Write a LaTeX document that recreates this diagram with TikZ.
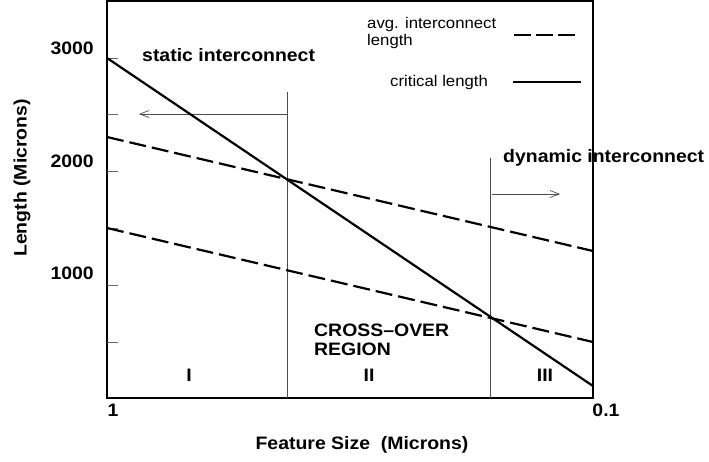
\documentclass[tikz,border=0pt]{standalone}
\usepackage{fontspec}
\setmainfont{Liberation Sans}
\newfontfamily\labfont[FakeStretch=1.08]{Liberation Sans}
\usetikzlibrary{arrows.meta}
\tikzset{
  bold/.style={font=\labfont\fontsize{18}{20}\selectfont\bfseries, inner sep=0pt},
  plain/.style={font=\labfont\fontsize{15.5}{17}\selectfont, inner sep=0pt},
  frame/.style={line width=1.5pt, black},
  crit/.style={line width=2.2pt, black},
  avg/.style={line width=2.2pt, black, dash pattern=on 17pt off 6pt},
  legdash/.style={line width=2.2pt, black, dash pattern=on 17pt off 5pt},
  divider/.style={line width=1pt, black!70},
  tick/.style={line width=1pt, black!60},
  pointer/.style={line width=0.7pt, black!70, -{Straight Barb[length=9pt,width=7pt]}},
}
\begin{document}
\begin{tikzpicture}[x=1pt,y=-1pt]
\useasboundingbox (0,0) rectangle (709,461);
% frame
\coordinate (bl) at (107,398);
\coordinate (tr) at (593,1);
\draw[frame] (bl) rectangle (tr);
% ticks
\foreach \yy/\nm in {58/t3000,114/t2500,171/t2000,228/t1500,285/t1000,342/t500}{
  \coordinate (\nm a) at (107,\yy);
  \coordinate (\nm b) at (118,\yy);
  \draw[tick] (\nm a) -- (\nm b);
}
% divider lines
\coordinate (d1top) at (287,92);
\coordinate (d1bot) at (287,398);
\coordinate (d2top) at (490,158);
\coordinate (d2bot) at (490,398);
\draw[divider] (d1top) -- (d1bot);
\draw[divider] (d2top) -- (d2bot);
% arrows
\coordinate (la0) at (287,114);
\coordinate (la1) at (139,114);
\draw[pointer] (la0) -- (la1);
\coordinate (ra0) at (492,194);
\coordinate (ra1) at (560,194);
\draw[pointer] (ra0) -- (ra1);
% curves
\coordinate (c0) at (107,58);
\coordinate (c1) at (593,386);
\draw[crit] (c0) -- (c1);
\coordinate (u0) at (107,137);
\coordinate (u1) at (593,251);
\draw[avg] (u0) -- (u1);
\coordinate (w0) at (107,228);
\coordinate (w1) at (593,342);
\draw[avg] (w0) -- (w1);
% legend
\node[plain, anchor=west, align=left] (legavg) at (367,33) {avg. interconnect\\length};
\coordinate (ld0) at (514,35);
\coordinate (ld1) at (578,35);
\draw[legdash] (ld0) -- (ld1);
\node[plain, anchor=west] (legcrit) at (390,82) {critical length};
\coordinate (ls0) at (513,82);
\coordinate (ls1) at (581,82);
\draw[crit] (ls0) -- (ls1);
% axis labels
\node[bold, anchor=east] (y3000) at (94,48) {3000};
\node[bold, anchor=east] (y2000) at (94,161) {2000};
\node[bold, anchor=east] (y1000) at (94,273) {1000};
\node[bold, rotate=90] (ylab) at (22,178) {Length (Microns)};
\node[bold] (x1) at (113,410) {1};
\node[bold] (x01) at (606,410) {0.1};
\node[bold] (xlab) at (362,445) {Feature Size\ \ (Microns)};
% region labels
\node[bold, anchor=west] (static) at (142,55) {static interconnect};
\node[bold, anchor=west] (dynamic) at (503,158) {dynamic interconnect};
\node[bold, anchor=west, align=left] (cross) at (314,340) {CROSS–OVER\\[-1pt]REGION};
\node[bold] (r1) at (189,375) {I};
\node[bold] (r2) at (369,375) {II};
\node[bold] (r3) at (545,375) {III};
\end{tikzpicture}
\end{document}
